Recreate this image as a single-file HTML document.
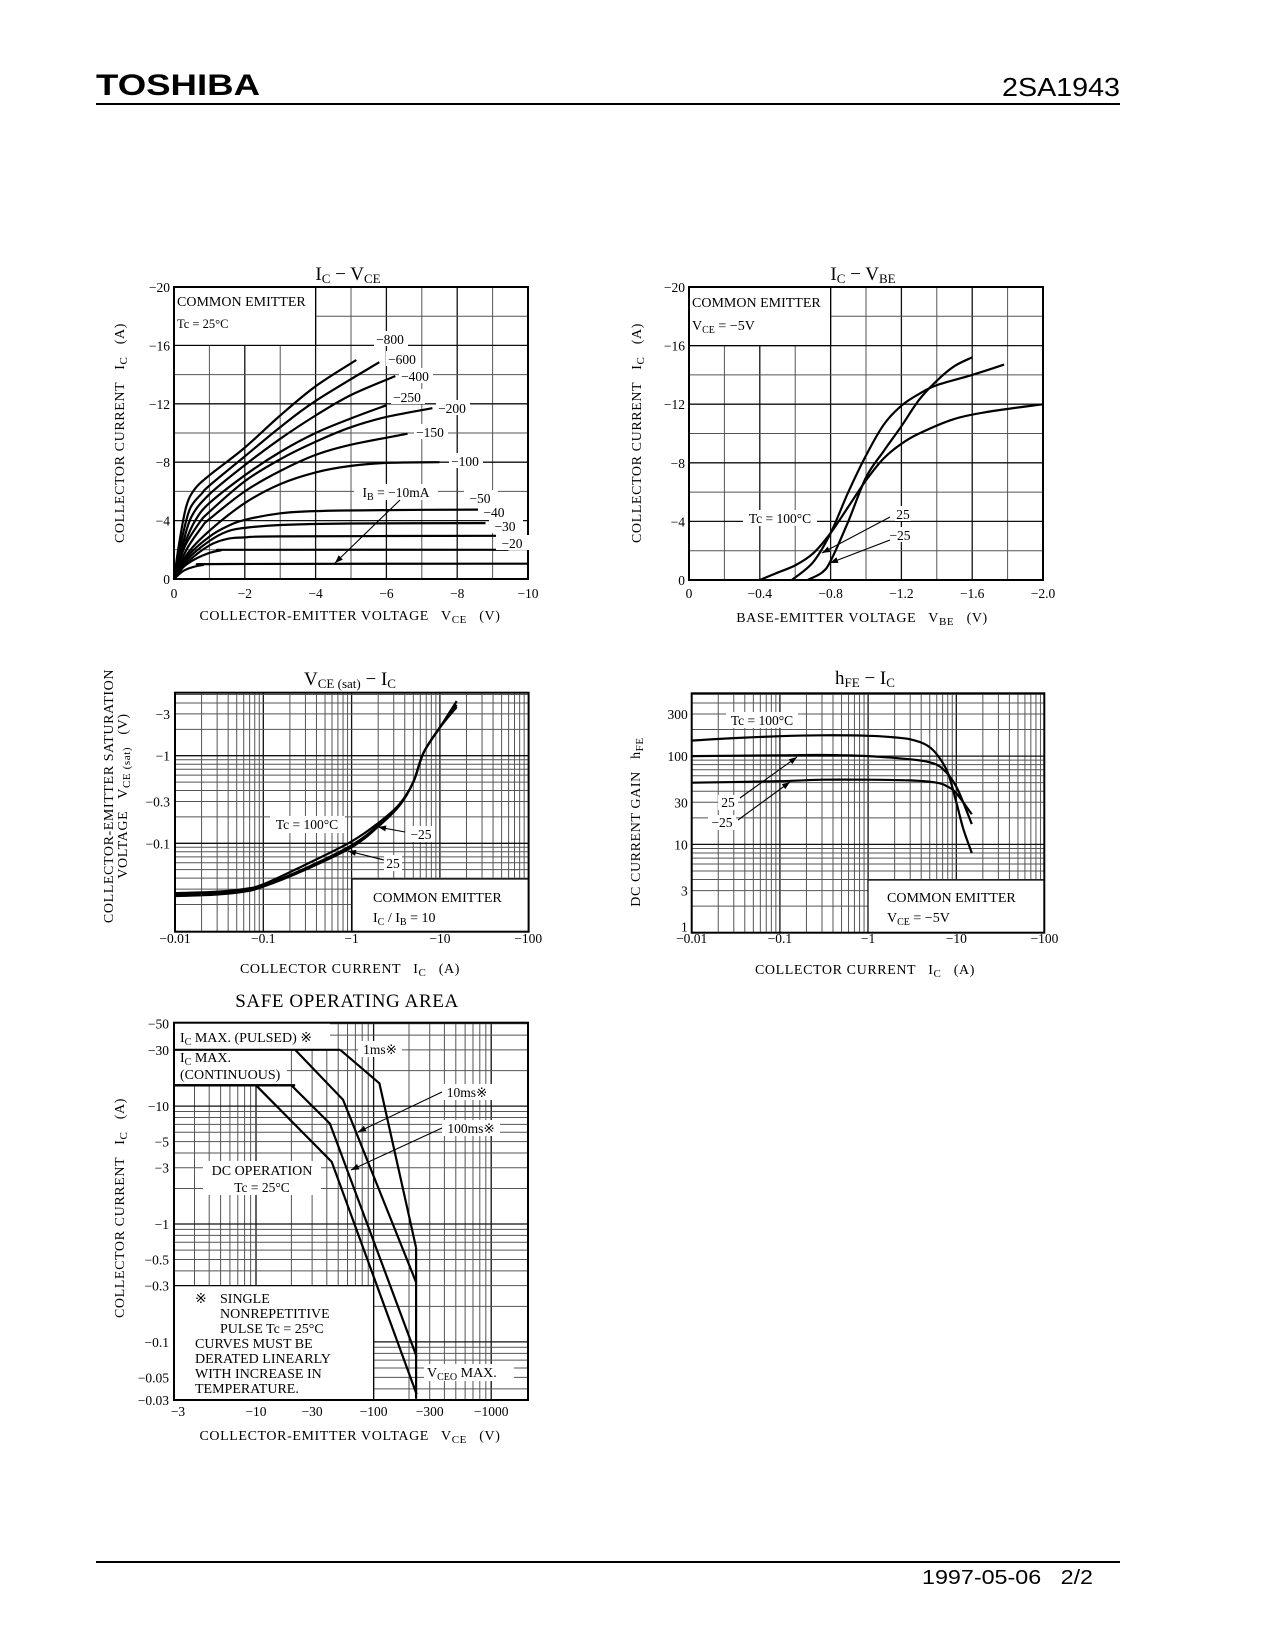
<!DOCTYPE html>
<html><head><meta charset="utf-8"><title>2SA1943 characteristics</title>
<style>
html,body{margin:0;padding:0;background:#fff}
svg{display:block}
.s{font-family:"Liberation Serif",serif;fill:#000}
.t{font-size:14px;letter-spacing:0.6px}
.ti{font-size:19px}
</style></head>
<body>
<svg id="page" xmlns="http://www.w3.org/2000/svg" width="1275" height="1650" viewBox="0 0 1275 1650">
<rect width="1275" height="1650" fill="#fff"/>
<g>
<text x="96" y="95" font-family="Liberation Sans,sans-serif" font-weight="bold" font-size="30" textLength="164" lengthAdjust="spacingAndGlyphs">TOSHIBA</text>
<text x="1120" y="96" text-anchor="end" font-family="Liberation Sans,sans-serif" font-size="26" textLength="118" lengthAdjust="spacingAndGlyphs">2SA1943</text>
<line x1="96" y1="104" x2="1120" y2="104" stroke="#000" stroke-width="2"/>
</g>
<g>
<line x1="96" y1="1562" x2="1120" y2="1562" stroke="#000" stroke-width="2"/>
<text x="922" y="1584" font-family="Liberation Sans,sans-serif" font-size="20" textLength="171" lengthAdjust="spacingAndGlyphs" xml:space="preserve">1997-05-06   2/2</text>
</g>
<g id="c1"></g>
<g id="c2"></g>
<g id="c3"></g>
<g id="c4"></g>
<g id="c5"></g>
<g id="txt" class="s">
<text class="ti" x="348" y="280" text-anchor="middle">I<tspan font-size="13" dy="3">C</tspan><tspan dy="-3">  −  V</tspan><tspan font-size="13" dy="3">CE</tspan></text>
<text class="t" x="350" y="620" text-anchor="middle" xml:space="preserve">COLLECTOR-EMITTER VOLTAGE   V<tspan font-size="11" dy="3">CE</tspan><tspan dy="-3">   (V)</tspan></text>
<text class="t" transform="translate(124,433) rotate(-90)" text-anchor="middle" xml:space="preserve">COLLECTOR CURRENT   I<tspan font-size="11" dy="3">C</tspan><tspan dy="-3">   (A)</tspan></text>
<text class="ti" x="863" y="280" text-anchor="middle">I<tspan font-size="13" dy="3">C</tspan><tspan dy="-3">  −  V</tspan><tspan font-size="13" dy="3">BE</tspan></text>
<text class="t" x="862" y="622" text-anchor="middle" xml:space="preserve">BASE-EMITTER VOLTAGE   V<tspan font-size="11" dy="3">BE</tspan><tspan dy="-3">   (V)</tspan></text>
<text class="t" transform="translate(641,433) rotate(-90)" text-anchor="middle" xml:space="preserve">COLLECTOR CURRENT   I<tspan font-size="11" dy="3">C</tspan><tspan dy="-3">   (A)</tspan></text>
<text class="ti" x="350" y="685" text-anchor="middle">V<tspan font-size="13" dy="3">CE (sat)</tspan><tspan dy="-3">  −  I</tspan><tspan font-size="13" dy="3">C</tspan></text>
<text class="t" x="350" y="973" text-anchor="middle" xml:space="preserve">COLLECTOR CURRENT   I<tspan font-size="11" dy="3">C</tspan><tspan dy="-3">   (A)</tspan></text>
<text class="t" transform="translate(113,796) rotate(-90)" text-anchor="middle">COLLECTOR-EMITTER SATURATION</text>
<text class="t" transform="translate(127,796) rotate(-90)" text-anchor="middle" xml:space="preserve">VOLTAGE   V<tspan font-size="11" dy="3">CE (sat)</tspan><tspan dy="-3">   (V)</tspan></text>
<text class="ti" x="865" y="684" text-anchor="middle">h<tspan font-size="13" dy="3">FE</tspan><tspan dy="-3">  −  I</tspan><tspan font-size="13" dy="3">C</tspan></text>
<text class="t" x="865" y="974" text-anchor="middle" xml:space="preserve">COLLECTOR CURRENT   I<tspan font-size="11" dy="3">C</tspan><tspan dy="-3">   (A)</tspan></text>
<text class="t" transform="translate(640,822) rotate(-90)" text-anchor="middle" xml:space="preserve">DC CURRENT GAIN   h<tspan font-size="11" dy="3">FE</tspan></text>
<text class="ti" x="347" y="1007" text-anchor="middle" letter-spacing="0.6">SAFE OPERATING AREA</text>
<text class="t" x="350" y="1440" text-anchor="middle" xml:space="preserve">COLLECTOR-EMITTER VOLTAGE   V<tspan font-size="11" dy="3">CE</tspan><tspan dy="-3">   (V)</tspan></text>
<text class="t" transform="translate(124,1208) rotate(-90)" text-anchor="middle" xml:space="preserve">COLLECTOR CURRENT   I<tspan font-size="11" dy="3">C</tspan><tspan dy="-3">   (A)</tspan></text>
</g>
</svg>
<script>
const c1Ib = ['−800','−600','−400','−250','−200','−150','−100','−50','−40','−30','−20'];
const c1Vce = [
 [0,0.15,0.35,0.6,1,2,3,4,5.15],
 [0,0.2,0.45,0.8,1,2,3,4,5.8],
 [0,0.25,0.5,1,2,3,4,5,6.25],
 [0,0.3,0.6,1,2,3,4,5,6],
 [0,0.3,0.7,1,2,3,4,5,6,7.3],
 [0,0.35,0.8,1,2,3,4,5,6.6],
 [0,0.4,1,2,3,4,5,6,7.5],
 [0,0.4,1,1.5,2,3,4,6,8.6],
 [0,0.4,1,1.5,2,3,5,8.8],
 [0,0.4,1,1.5,2,3,9.1],
 [0,0.3,0.8,1.3,2,9.45],
 [0,0.3,0.8,1.5,10]
];
const c1Ic = [
 [0,2.5,5.0,6.2,7.1,9.0,11.2,13.2,15.0],
 [0,2.5,4.8,5.9,6.4,8.4,10.4,12.2,14.85],
 [0,2.4,4.3,5.8,7.8,9.6,11.2,12.6,13.9],
 [0,2.4,4.0,5.2,7.1,8.7,10.0,11.0,11.9],
 [0,2.2,3.8,4.6,6.7,8.2,9.4,10.4,11.1,11.7],
 [0,2.0,3.6,4.1,6.0,7.4,8.5,9.2,9.95],
 [0,1.8,3.3,5.2,6.5,7.3,7.75,7.95,8.0],
 [0,1.6,2.9,3.6,4.05,4.5,4.65,4.72,4.75],
 [0,1.4,2.6,3.25,3.5,3.7,3.8,3.83],
 [0,1.2,2.3,2.75,2.85,2.92,2.96],
 [0,0.9,1.6,1.95,2.0,2.0],
 [0,0.6,0.95,1.03,1.05]
];
const c1XTicks = [0,-2,-4,-6,-8,-10];
const c1YTicks = [0,-4,-8,-12,-16,-20];

const c2Temps = ['100','25','-25'];
const c2Vbe = [
 [0.4,0.5,0.6,0.7,0.8,0.9,1.0,1.1,1.2,1.3,1.5,1.7,2.0],
 [0.58,0.7,0.8,0.9,1.0,1.1,1.2,1.3,1.4,1.6,1.78],
 [0.67,0.75,0.8,0.9,1.0,1.1,1.2,1.3,1.4,1.5,1.6]
];
const c2Ic = [
 [0,0.5,1.0,1.8,3.2,5.0,6.8,8.3,9.3,10,11,11.5,12.0],
 [0,1.2,3.2,6.0,8.5,10.6,11.9,12.7,13.3,14.0,14.7],
 [0,0.5,1.3,4.0,7.0,8.8,10.5,12.3,13.6,14.6,15.2]
];
const c2XTicks = [0,-0.4,-0.8,-1.2,-1.6,-2.0];
const c2YTicks = [0,-4,-8,-12,-16,-20];

const c3Ic = [0.01,0.03,0.06,0.1,0.3,1,2,3.5,5,6.5,10,15.5];
const c3V100 = [0.027,0.028,0.03,0.034,0.057,0.105,0.17,0.28,0.5,1.07,2.1,4.2];
const c3V25 = [0.026,0.027,0.029,0.033,0.052,0.095,0.16,0.28,0.5,1.07,2.1,3.6];
const c3Vm25 = [0.025,0.026,0.028,0.032,0.05,0.09,0.155,0.27,0.5,1.07,2.1,3.8];
const c3XTicks = ['−0.01','−0.1','−1','−10','−100'];
const c3YTicks = [3,1,0.3,0.1];

const c4Ic100 = [0.01,0.03,0.1,0.3,1,2,3,4.5,6,8,10,12,15];
const c4H100 = [150,160,168,172,170,163,155,135,105,65,30,15,8];
const c4Ic25 = [0.01,0.1,0.3,1,3,5,7,10,15];
const c4H25 = [100,102,103,100,92,85,72,45,17];
const c4IcM25 = [0.01,0.1,0.3,1,3,6,8,10,15];
const c4HM25 = [50,52,54,54,53,50,45,38,22];
const c4XTicks = ['−0.01','−0.1','−1','−10','−100'];
const c4YTicks = [1,3,10,30,100,300];

const soaPulsedV = [2,52]; const soaPulsedI = [30,30];
const soaContV = [2,21.5]; const soaContI = [15,15];
const soa1msV = [52,112,230]; const soa1msI = [30,15.6,0.63];
const soa10msV = [21.5,55,230]; const soa10msI = [30,11.3,0.32];
const soa100msV = [2,20,42.5,232]; const soa100msI = [15,15,7.1,0.075];
const soaDcV = [10,44,232]; const soaDcI = [15,3.37,0.036];
const soaVceoV = [230,230]; const soaVceoI = [0.63,0.033];
const soaXTicks = [3,10,30,100,300,1000];
const soaYTicks = [50,30,10,5,3,1,0.5,0.3,0.1,0.05,0.03];

const NS='http://www.w3.org/2000/svg';
const SW=2.2;
function mk(tag,parent,attrs){const e=document.createElementNS(NS,tag);for(const k in attrs)e.setAttribute(k,attrs[k]);parent.appendChild(e);return e;}
function smooth(p){let d='M'+p[0][0].toFixed(1)+','+p[0][1].toFixed(1);for(let i=0;i<p.length-1;i++){const p0=p[i-1]||p[i],p1=p[i],p2=p[i+1],p3=p[i+2]||p2;const c1x=p1[0]+(p2[0]-p0[0])/6,c1y=p1[1]+(p2[1]-p0[1])/6,c2x=p2[0]-(p3[0]-p1[0])/6,c2y=p2[1]-(p3[1]-p1[1])/6;d+='C'+c1x.toFixed(1)+','+c1y.toFixed(1)+' '+c2x.toFixed(1)+','+c2y.toFixed(1)+' '+p2[0].toFixed(1)+','+p2[1].toFixed(1);}return d;}
function poly(p){return 'M'+p.map(q=>q[0].toFixed(1)+','+q[1].toFixed(1)).join('L');}
function line(g,x1,y1,x2,y2,w,c){return mk('line',g,{x1,y1,x2,y2,stroke:c||'#000','stroke-width':w||1});}
function txt(g,x,y,s,anchor,size){const t=mk('text',g,{x,y,'text-anchor':anchor||'middle','font-family':'Liberation Serif,serif','font-size':size||13.5});t.textContent=s;return t;}
function wrect(g,x,y,w,h,border){return mk('rect',g,{x,y,width:w,height:h,fill:'#fff',stroke:border?'#000':'none','stroke-width':1.2});}
function arrow(g,x1,y1,x2,y2){line(g,x1,y1,x2,y2,1.1);const a=Math.atan2(y2-y1,x2-x1),L=8,W=3;const p=[[x2,y2],[x2-L*Math.cos(a)+W*Math.sin(a),y2-L*Math.sin(a)-W*Math.cos(a)],[x2-L*Math.cos(a)-W*Math.sin(a),y2-L*Math.sin(a)+W*Math.cos(a)]];mk('path',g,{d:poly(p)+'Z',fill:'#000'});}
const fmt=v=>v===0?'0':(v<0?'−':'')+Math.abs(v);
const lg=Math.log10;

(function(){
 const g=document.getElementById('c1');
 const L=174,R=528,T=287,B=579;
 const x=v=>L+(R-L)*v/10, y=i=>B-(B-T)*i/20;
 const grid=mk('g',g,{});
 
 
 for(let v=1;v<10;v++)line(grid,x(v),T,x(v),B,v%2?1:1.3,v%2?'#555':'#111');
 for(let i=2;i<20;i+=2)line(grid,L,y(i),R,y(i),i%4?1:1.3,i%4?'#555':'#111');
 wrect(g,L,T,x(4)-L,y(16)-T,true);
 mk('rect',g,{x:L,y:T,width:R-L,height:B-T,fill:'none',stroke:'#000','stroke-width':2});
 c1XTicks.forEach(v=>{const t=txt(g,x(-v),598,fmt(v));});
 c1YTicks.forEach(v=>{const t=txt(g,L-4,y(-v)+5,fmt(v),'end');});
 c1Vce.forEach((vs,k)=>{const p=mk('path',g,{d:smooth(vs.map((v,j)=>[x(v),y(c1Ic[k][j])])),fill:'none',stroke:'#000','stroke-width':SW});
  
  });
 txt(g,L+3,T+19,'COMMON EMITTER','start',14);
 txt(g,L+3,T+41,'Tc = 25°C','start',12.5);
 const labs=[[390,339],[402,359],[415,376],[407,397],[452,408],[430,432],[465,461],[480,498],[494,512],[505,526],[512,543]];
 c1Ib.forEach((s,k)=>{const [lx,ly]=labs[k];wrect(g,lx-16,ly-8,34,15);const t=txt(g,lx,ly+5,s);});
 wrect(g,354,484,84,16);
 const ib=mk('text',g,{x:396,y:497,'text-anchor':'middle','font-family':'Liberation Serif,serif','font-size':13.5});
 ib.innerHTML='I<tspan font-size="10" dy="3">B</tspan><tspan dy="-3"> = −10mA</tspan>';
 
 arrow(g,400,500,335,563);
})();

(function(){
 const g=document.getElementById('c2');
 const L=689,R=1043,T=287,B=580;
 const x=v=>L+(R-L)*v/2, y=i=>B-(B-T)*i/20;
 const grid=mk('g',g,{});
 
 
 for(let k=1;k<10;k++)line(grid,x(k*0.2),T,x(k*0.2),B,k%2?1:1.3,k%2?'#555':'#111');
 for(let i=2;i<20;i+=2)line(grid,L,y(i),R,y(i),i%4?1:1.3,i%4?'#555':'#111');
 wrect(g,L,T,x(0.8)-L,y(16)-T,true);
 mk('rect',g,{x:L,y:T,width:R-L,height:B-T,fill:'none',stroke:'#000','stroke-width':2});
 c2XTicks.forEach(v=>{const t=txt(g,x(-v),598,v===0?'0':'−'+Math.abs(v).toFixed(1));});
 c2YTicks.forEach(v=>{const t=txt(g,L-4,y(-v)+5,fmt(v),'end');});
 c2Vbe.forEach((vs,k)=>{const p=mk('path',g,{d:smooth(vs.map((v,j)=>[x(v),y(c2Ic[k][j])])),fill:'none',stroke:'#000','stroke-width':SW});
  
  });
 txt(g,L+3,T+20,'COMMON EMITTER','start',14);
 const vc=mk('text',g,{x:L+3,y:T+43,'font-family':'Liberation Serif,serif','font-size':14});
 vc.innerHTML='V<tspan font-size="10" dy="3">CE</tspan><tspan dy="-3"> = −5V</tspan>';
 wrect(g,743,510,74,16);txt(g,780,523,'Tc = 100°C');
 wrect(g,895,506,16,15);txt(g,903,519,'25');
 wrect(g,888,527,24,15);txt(g,900,540,'−25');
 arrow(g,890,517,822,553);
 arrow(g,890,540,830,563);
})();

function logGrid(g,L,R,T,B,x,y,xmin,xmax,ymin,ymax){
 for(let d=Math.floor(lg(xmin));d<=Math.ceil(lg(xmax));d++)for(let k=1;k<10;k++){const v=k*Math.pow(10,d);if(v<=xmin*1.0001||v>=xmax*0.9999)continue;line(g,x(v),T,x(v),B,k===1?1.3:1,k===1?'#111':'#555');}
 for(let d=Math.floor(lg(ymin));d<=Math.ceil(lg(ymax));d++)for(let k=1;k<10;k++){const v=k*Math.pow(10,d);if(v<=ymin*1.0001||v>=ymax*0.9999)continue;line(g,L,y(v),R,y(v),k===1?1.3:1,k===1?'#111':'#555');}
}
(function(){
 const g=document.getElementById('c3');
 const L=175,R=528.6,T=692.7,B=931.7;
 const x=i=>L+88.3*(lg(i)+2), y=v=>755.7-87.6*lg(v);
 const grid=mk('g',g,{});
 
 
 logGrid(grid,L,R,T,B,x,y,0.01,100,0.01,5.2);
 wrect(g,352,879,R-352,B-879,true);
 mk('rect',g,{x:L,y:T,width:R-L,height:B-T,fill:'none',stroke:'#000','stroke-width':2});
 c3XTicks.forEach((s,k)=>{const t=txt(g,L+88.3*k,943,s);});
 c3YTicks.forEach(v=>{const t=txt(g,L-5,y(v)+5,'−'+v,'end');});
 [c3V100,c3V25,c3Vm25].forEach(vs=>{const p=mk('path',g,{d:smooth(c3Ic.map((c,j)=>[x(c),y(vs[j])])),fill:'none',stroke:'#000','stroke-width':SW});
  
  });
 wrect(g,270,816,75,17);txt(g,307,829,'Tc = 100°C');
 wrect(g,407,826,28,16);txt(g,421,839,'−25');
 wrect(g,384,855,18,16);txt(g,393,868,'25');
 arrow(g,405,832,378,827);
 arrow(g,384,860,348,851);
 txt(g,373,902,'COMMON EMITTER','start',14);
 const r=mk('text',g,{x:373,y:922,'font-family':'Liberation Serif,serif','font-size':14});
 r.innerHTML='I<tspan font-size="10" dy="3">C</tspan><tspan dy="-3"> / I</tspan><tspan font-size="10" dy="3">B</tspan><tspan dy="-3"> = 10</tspan>';
})();

(function(){
 const g=document.getElementById('c4');
 const L=691.7,R=1044.3,T=693.3,B=932.7;
 const x=i=>L+88.2*(lg(i)+2), y=h=>B-88.3*lg(h);
 const grid=mk('g',g,{});
 
 
 logGrid(grid,L,R,T,B,x,y,0.01,100,1,515);
 wrect(g,868,880,R-868,B-880,true);
 mk('rect',g,{x:L,y:T,width:R-L,height:B-T,fill:'none',stroke:'#000','stroke-width':2});
 c4XTicks.forEach((s,k)=>{const t=txt(g,L+88.2*k,943,s);});
 c4YTicks.forEach(v=>{const t=txt(g,L-4,y(v)+(v===1?-1:5),String(v),'end');});
 [[c4Ic100,c4H100],[c4Ic25,c4H25],[c4IcM25,c4HM25]].forEach(([is,hs])=>{const p=mk('path',g,{d:smooth(is.map((c,j)=>[x(c),y(hs[j])])),fill:'none',stroke:'#000','stroke-width':SW});
  
  });
 wrect(g,726,712,72,16);txt(g,762,725,'Tc = 100°C');
 wrect(g,718,795,20,15);txt(g,728,807,'25');
 wrect(g,708,815,28,15);txt(g,722,827,'−25');
 arrow(g,740,798,797,757);
 arrow(g,738,820,790,782);
 txt(g,887,902,'COMMON EMITTER','start',14);
 const vc=mk('text',g,{x:887,y:922,'font-family':'Liberation Serif,serif','font-size':14});
 vc.innerHTML='V<tspan font-size="10" dy="3">CE</tspan><tspan dy="-3"> = −5V</tspan>';
})();

(function(){
 const g=document.getElementById('c5');
 const L=174,R=528,T=1022.7,B=1400;
 const x=v=>256+117.6*lg(v/10), y=i=>1224-117.9*lg(i);
 const grid=mk('g',g,{});
 
 
 logGrid(grid,L,R,T,B,x,y,2.0,1880,0.033,51);
 wrect(g,L,T,156,y(30)-T,false);
 wrect(g,L,y(30),113,y(15)-y(30),false);
 wrect(g,L,y(0.3),x(100)-L,B-y(0.3),true);
 mk('rect',g,{x:L,y:T,width:R-L,height:B-T,fill:'none',stroke:'#000','stroke-width':2});
 soaXTicks.forEach((v,k)=>{const t=txt(g,k===0?178:x(v),1416,'−'+v);});
 soaYTicks.forEach(v=>{const t=txt(g,L-5,(v===0.03?B:y(v))+5,'−'+v,'end');});
 const series=[['pulsed-max',soaPulsedV,soaPulsedI],['continuous-max',soaContV,soaContI],['1ms',soa1msV,soa1msI],['10ms',soa10msV,soa10msI],['100ms',soa100msV,soa100msI],['dc',soaDcV,soaDcI],['vceo-max',soaVceoV,soaVceoI]];
 series.forEach(([n,vs,is])=>{const p=mk('path',g,{d:poly(vs.map((v,j)=>[x(v),y(is[j])])),fill:'none',stroke:'#000','stroke-width':SW});
  
  });
 line(g,L,y(15),x(21.5),y(15),SW);
 const p1=mk('text',g,{x:180,y:1042,'font-family':'Liberation Serif,serif','font-size':14});
 p1.innerHTML='I<tspan font-size="10" dy="3">C</tspan><tspan dy="-3"> MAX. (PULSED) ※</tspan>';
 const p2=mk('text',g,{x:180,y:1062,'font-family':'Liberation Serif,serif','font-size':14});
 p2.innerHTML='I<tspan font-size="10" dy="3">C</tspan><tspan dy="-3"> MAX.</tspan>';
 txt(g,180,1079,'(CONTINUOUS)','start',14);
 wrect(g,358,1041,44,16);txt(g,380,1054,'1ms※');
 wrect(g,442,1084,50,16);txt(g,467,1097,'10ms※');
 wrect(g,442,1120,58,16);txt(g,471,1133,'100ms※');
 arrow(g,442,1092,358,1132);
 arrow(g,442,1128,351,1170);
 wrect(g,203,1161,118,34);
 txt(g,262,1175,'DC OPERATION','middle',14);txt(g,262,1192,'Tc = 25°C');
 const notes=[['※',195,1303],['SINGLE',220,1303],['NONREPETITIVE',220,1318],['PULSE Tc = 25°C',220,1333],['CURVES MUST BE',195,1348],['DERATED LINEARLY',195,1363],['WITH INCREASE IN',195,1378],['TEMPERATURE.',195,1393]];
 notes.forEach(([s,nx,ny])=>{const t=txt(g,nx,ny,s,'start',14);});
 wrect(g,424,1364,90,17);
 const vc=mk('text',g,{x:427,y:1377,'font-family':'Liberation Serif,serif','font-size':14});
 vc.innerHTML='V<tspan font-size="10" dy="3">CEO</tspan><tspan dy="-3"> MAX.</tspan>';
})();
</script>
</body></html>
